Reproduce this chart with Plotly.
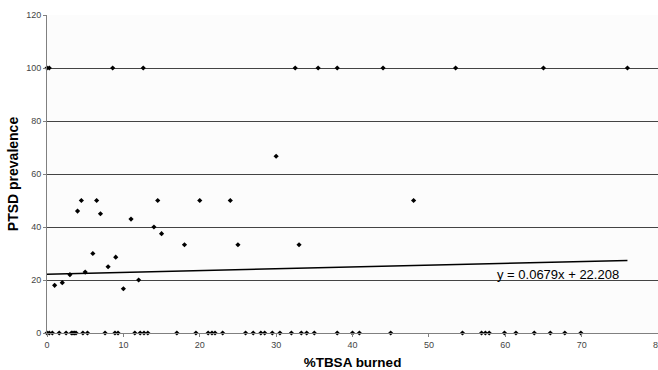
import plotly.graph_objects as go

# %TBSA burned (x) and PTSD prevalence (y) per study
tbsa = [0, 0.3, 8.6, 12.6, 32.5, 35.5, 38.0, 44.0, 53.5, 65.0, 76.0,
        30.0,
        4.5, 6.5, 14.5, 20.0, 24.0, 48.0,
        4.0, 7.0, 11.0, 14.0, 15.0,
        18.0, 25.0, 33.0, 6.0, 9.0, 8.0, 5.0, 3.0, 2.0, 1.0, 12.0, 10.0,
        0, 0.3, 0.7, 1.6, 2.5, 3.2, 3.4, 3.6, 3.8, 4.7, 5.3, 7.6, 8.9, 9.3,
        11.5, 12.2, 12.7, 13.2, 17.0, 19.5, 21.1, 21.6, 22.0, 23.0, 26.0,
        27.0, 28.0, 28.5, 29.5, 30.5, 32.0, 33.3, 34.0, 35.0, 38.0, 40.0,
        40.9, 45.0, 54.4, 56.9, 57.4, 57.9, 59.9, 61.4, 63.8, 65.9, 67.8, 69.9]
ptsd = [100, 100, 100, 100, 100, 100, 100, 100, 100, 100, 100,
        66.7,
        50, 50, 50, 50, 50, 50,
        46, 45, 43, 40, 37.5,
        33.3, 33.3, 33.3, 30, 28.6, 25, 23, 22, 19, 18, 20, 16.7,
        0, 0, 0, 0, 0, 0, 0, 0, 0, 0, 0, 0, 0, 0,
        0, 0, 0, 0, 0, 0, 0, 0, 0, 0, 0,
        0, 0, 0, 0, 0, 0, 0, 0, 0, 0, 0,
        0, 0, 0, 0, 0, 0, 0, 0, 0, 0, 0, 0]

slope = 0.0679
intercept = 22.208

x_ticks = [0, 10, 20, 30, 40, 50, 60, 70, 80]
y_ticks = [0, 20, 40, 60, 80, 100, 120]

trend_x = [min(tbsa), max(tbsa)]
trend_y = [slope * v + intercept for v in trend_x]

font = "Liberation Sans, Arial, sans-serif"

fig = go.Figure()
fig.add_trace(go.Scatter(x=tbsa, y=ptsd, mode="markers",
                         marker=dict(symbol="diamond", size=4, color="black"),
                         cliponaxis=False, showlegend=False))
fig.add_trace(go.Scatter(x=trend_x, y=trend_y, mode="lines",
                         line=dict(color="black", width=1.5), showlegend=False))

fig.add_annotation(x=66.9, y=22, xref="x", yref="y",
                   text=f"y = {slope}x + {intercept}", showarrow=False,
                   font=dict(family=font, size=13, color="black"))

fig.update_layout(
    width=658, height=370,
    margin=dict(l=47, r=0, t=15, b=37, autoexpand=False),
    paper_bgcolor="white", plot_bgcolor="#FCFCFC",
    font=dict(family=font, size=9, color="#444"),
    xaxis=dict(range=[0, 80], tickvals=x_ticks, showgrid=False,
               showline=True, linecolor="#808080", linewidth=1,
               ticks="outside", ticklen=3, tickcolor="#808080",
               zeroline=False, ticklabeloverflow="allow", automargin=False,
               title=dict(text="<b>%TBSA burned</b>", standoff=9,
                          font=dict(family=font, size=13.5, color="black"))),
    yaxis=dict(range=[0, 120], tickvals=y_ticks, showgrid=True,
               gridcolor="#444", gridwidth=1,
               showline=True, linecolor="#808080", linewidth=1,
               ticks="outside", ticklen=3, tickcolor="#808080",
               zeroline=False, automargin=False,
               title=dict(text="<b>PTSD prevalence</b>", standoff=4,
                          font=dict(family=font, size=14, color="black"))),
)

fig.write_html("out.html", config={"displayModeBar": False},
               post_script="document.body.style.margin='0';document.body.style.overflow='hidden';")
